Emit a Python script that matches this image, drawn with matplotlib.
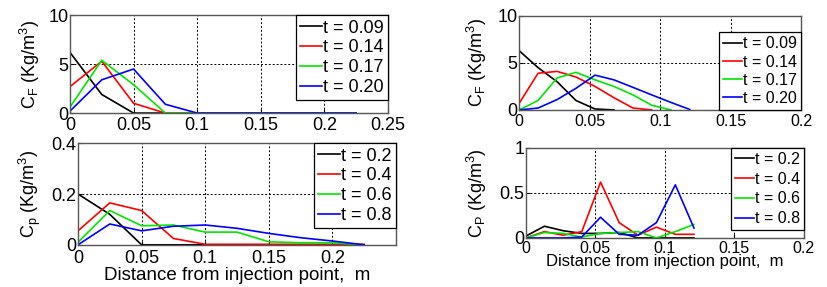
import matplotlib.pyplot as plt
import numpy as np

plt.rcParams['font.family'] = ['Liberation Sans', 'DejaVu Sans']
plt.rcParams['font.size'] = 13
plt.rcParams['mathtext.fontset'] = 'custom'
plt.rcParams['mathtext.rm'] = 'Liberation Sans'
plt.rcParams['mathtext.it'] = 'Liberation Sans'

# ---- left column: coarse grid (step 0.025 m) ----
x_left = [0, 0.025, 0.05, 0.075, 0.1, 0.125, 0.15, 0.175, 0.2, 0.225]

cf_left_labels = ['t = 0.09', 't = 0.14', 't = 0.17', 't = 0.20']
cf_left = [
    [6.2, 1.9, 0.0, 0.0, 0.0, 0.0, 0.0, 0.0, 0.0, 0.0],
    [2.7, 5.3, 1.0, 0.0, 0.0, 0.0, 0.0, 0.0, 0.0, 0.0],
    [0.6, 5.4, 2.9, 0.0, 0.0, 0.0, 0.0, 0.0, 0.0, 0.0],
    [0.2, 3.4, 4.5, 0.9, 0.0, 0.0, 0.0, 0.0, 0.0, 0.0],
]

cp_left_labels = ['t = 0.2', 't = 0.4', 't = 0.6', 't = 0.8']
cp_left = [
    [0.20, 0.12, 0.0, 0.0, 0.0, 0.0, 0.0, 0.0, 0.0, 0.0],
    [0.055, 0.165, 0.135, 0.025, 0.002, 0.002, 0.002, 0.002, 0.002, 0.002],
    [0.01, 0.135, 0.075, 0.078, 0.05, 0.05, 0.012, 0.008, 0.008, 0.0],
    [0.0, 0.082, 0.055, 0.073, 0.078, 0.065, 0.045, 0.028, 0.015, 0.0],
]

# ---- right column: fine grid ----
x_right = [0, 0.0134, 0.0269, 0.0403, 0.0538, 0.0672, 0.0807, 0.094, 0.1076, 0.121]

cf_right_labels = ['t = 0.09', 't = 0.14', 't = 0.17', 't = 0.20']
cf_right = [
    [6.3, 4.5, 3.0, 1.0, 0.1, 0.0, None, None, None, None],
    [0.7, 3.9, 4.1, 3.5, 2.5, 1.3, 0.2, 0.0, None, None],
    [0.0, 1.0, 3.4, 4.0, 3.2, 2.5, 1.6, 0.5, 0.0, None],
    [0.0, 0.2, 1.1, 2.3, 3.7, 3.2, 2.4, 1.6, 0.8, 0.05],
]

cp_right_labels = ['t = 0.2', 't = 0.4', 't = 0.6', 't = 0.8']
cp_right = [
    [0.02, 0.13, 0.08, 0.05, 0.05, 0.06, 0.0, 0.0, 0.0, 0.0],
    [0.0, 0.07, 0.03, 0.07, 0.62, 0.17, 0.03, 0.12, 0.04, 0.04],
    [0.0, 0.06, 0.05, 0.01, 0.05, 0.06, 0.07, 0.0, 0.07, 0.15],
    [0.0, 0.0, 0.0, 0.01, 0.23, 0.04, 0.03, 0.17, 0.59, 0.11],
]

colors = ['black', 'red', '#00e600', 'blue']

fig = plt.figure(figsize=(8.28, 2.87), dpi=100)
ax_tl = fig.add_axes([0.0845, 0.606, 0.384, 0.341])
ax_bl = fig.add_axes([0.0942, 0.147, 0.384, 0.354])
ax_tr = fig.add_axes([0.627, 0.617, 0.3406, 0.3275])
ax_br = fig.add_axes([0.635, 0.171, 0.3357, 0.3136])


def draw(ax, x, series, labels, ylabel, xlim, xticks, ylim, yticks,
         loc, anchor, fs, xpad, ylab_x, lspace):
    for ys, c, lab in zip(series, colors, labels):
        xx = [a for a, b in zip(x, ys) if b is not None]
        yy = [b for b in ys if b is not None]
        ax.plot(xx, yy, color=c, lw=1.2, label=lab)
    ax.set_xlim(xlim)
    ax.set_ylim(ylim)
    ax.set_xticks(xticks)
    ax.set_xticklabels([('%g' % t) for t in xticks])
    ax.set_yticks(yticks)
    ax.set_yticklabels([('%g' % t) for t in yticks])
    ax.grid(True, color='black', linestyle=(0, (2, 2)), lw=0.7)
    ax.tick_params(direction='in', length=3, pad=1)
    ax.tick_params(axis='x', pad=xpad, labelsize=fs)
    ax.tick_params(axis='y', labelsize=13)
    for s in ax.spines.values():
        s.set_color('#555555')
        s.set_linewidth(1.0)
    ax.set_ylabel(ylabel, fontsize=13)
    ax.yaxis.set_label_coords(ylab_x, 0.5)
    leg = ax.legend(loc=loc, bbox_to_anchor=anchor, fancybox=False,
                    framealpha=1, edgecolor='black', handlelength=1.2,
                    handletextpad=0.05, borderpad=0.25, labelspacing=lspace,
                    borderaxespad=0, fontsize=fs)
    leg.get_frame().set_linewidth(0.9)


draw(ax_tl, x_left, cf_left, cf_left_labels, 'C$_F$ (Kg/m$^3$)',
     (0, 0.25), [0, 0.05, 0.1, 0.15, 0.2, 0.25], (0, 10), [0, 5, 10],
     'upper right', (1, 1), 13, 3, -0.088, 0.15)
draw(ax_bl, x_left, cp_left, cp_left_labels, 'C$_p$ (Kg/m$^3$)',
     (0, 0.25), [0, 0.05, 0.1, 0.15, 0.2], (0, 0.4), [0, 0.2, 0.4],
     'upper right', (1, 1), 13, 4, -0.110, 0.15)
draw(ax_tr, x_right, cf_right, cf_right_labels, 'C$_F$ (Kg/m$^3$)',
     (0, 0.2), [0, 0.05, 0.1, 0.15, 0.2], (0, 10), [0, 5, 10],
     'lower right', (1, 0), 11.5, 3, -0.106, 0.2)
draw(ax_br, x_right, cp_right, cp_right_labels, 'C$_P$ (Kg/m$^3$)',
     (0, 0.2), [0, 0.05, 0.1, 0.15, 0.2], (0, 1), [0, 0.5, 1],
     'upper right', (1, 1), 11.5, 2, -0.133, 0.3)

ax_bl.set_xlabel('Distance from injection point,  m', fontsize=13.5, labelpad=0)
ax_br.set_xlabel('Distance from injection point,  m', fontsize=12, labelpad=-1)

fig.savefig('out.png', dpi=100)
